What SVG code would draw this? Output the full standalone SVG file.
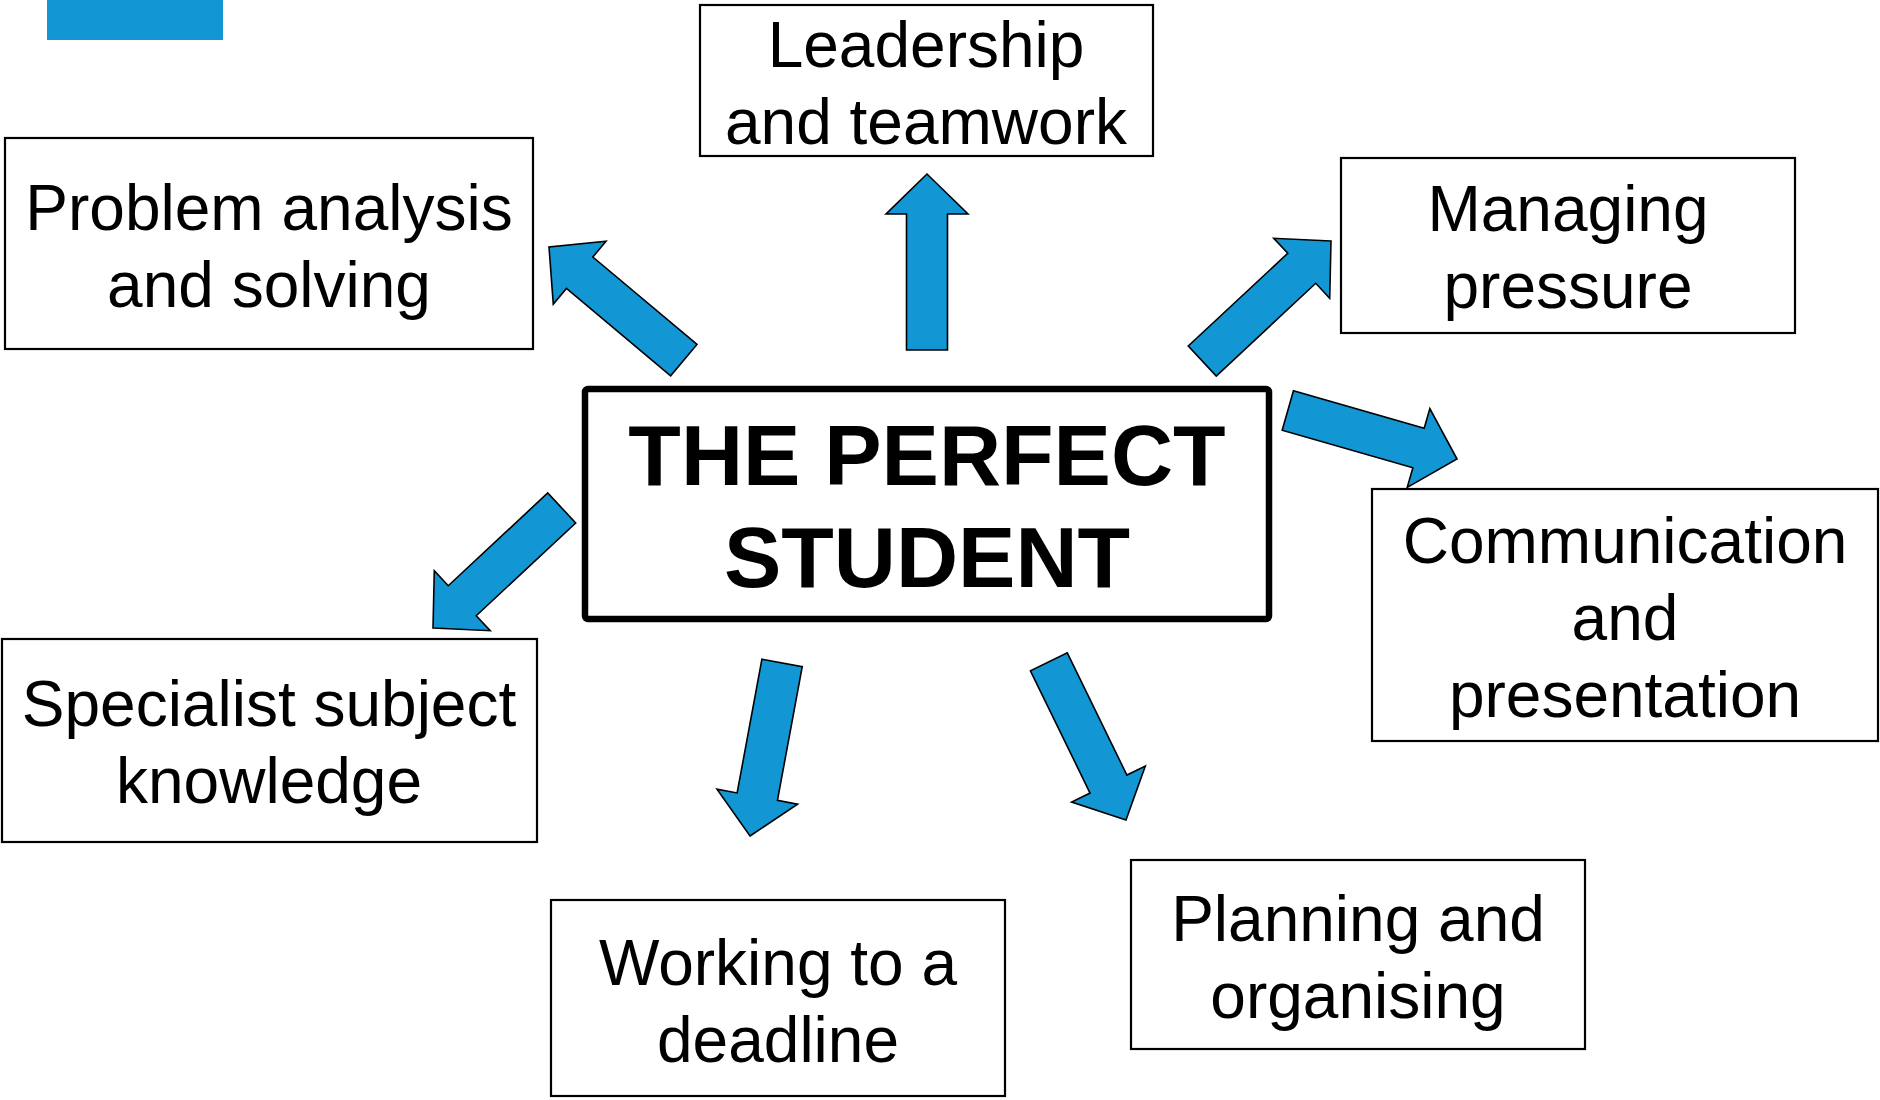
<svg xmlns="http://www.w3.org/2000/svg" xmlns:xlink="http://www.w3.org/1999/xlink" width="1880" height="1100" viewBox="0 0 1880 1100">
<style>
.box{fill:#fff;stroke:#000;stroke-width:2.2}
.main{fill:#fff;stroke:#000;stroke-width:6.5;stroke-linejoin:round}
.t{font-family:"Liberation Sans",Arial,sans-serif;font-size:64px;text-anchor:middle;fill:#000}
.tb{font-family:"Liberation Sans",Arial,sans-serif;font-size:86px;font-weight:bold;text-anchor:middle;fill:#000}
.arr{fill:#1396D4;stroke:#000;stroke-width:1.6;stroke-linejoin:miter}
</style>
<defs>
<polygon id="arrow" points="0,0 -40,-41 -40,-20.5 -176,-20.5 -176,20.5 -40,20.5 -40,41"/>
</defs>
<rect x="47" y="0" width="176" height="40" fill="#1396D4"/>
<g id="connectors">
<use xlink:href="#arrow" class="arr" transform="translate(927,174) rotate(-90)"/>
<use xlink:href="#arrow" class="arr" transform="translate(549,247) rotate(-140)"/>
<use xlink:href="#arrow" class="arr" transform="translate(1331,241) rotate(-43)"/>
<use xlink:href="#arrow" class="arr" transform="translate(1457,459) rotate(16)"/>
<use xlink:href="#arrow" class="arr" transform="translate(433,628) rotate(137)"/>
<use xlink:href="#arrow" class="arr" transform="translate(750,836) rotate(100.5)"/>
<use xlink:href="#arrow" class="arr" transform="translate(1126,820) rotate(64)"/>
</g>
<g id="center">
<rect class="main" x="585" y="389" width="684" height="230" rx="3"/>
<text class="tb" x="927" y="485">THE PERFECT</text>
<text class="tb" x="927" y="587">STUDENT</text>
</g>
<g id="problem">
<rect class="box" x="5" y="138" width="528" height="211"/>
<text class="t" x="269" y="230">Problem analysis</text>
<text class="t" x="269" y="307">and solving</text>
</g>
<g id="leadership">
<rect class="box" x="700" y="5" width="453" height="151"/>
<text class="t" x="926" y="67">Leadership</text>
<text class="t" x="926" y="144">and teamwork</text>
</g>
<g id="managing">
<rect class="box" x="1341" y="158" width="454" height="175"/>
<text class="t" x="1568" y="231">Managing</text>
<text class="t" x="1568" y="308">pressure</text>
</g>
<g id="communication">
<rect class="box" x="1372" y="489" width="506" height="252"/>
<text class="t" x="1625" y="563">Communication</text>
<text class="t" x="1625" y="640">and</text>
<text class="t" x="1625" y="717">presentation</text>
</g>
<g id="specialist">
<rect class="box" x="2" y="639" width="535" height="203"/>
<text class="t" x="269" y="726">Specialist subject</text>
<text class="t" x="269" y="803">knowledge</text>
</g>
<g id="working">
<rect class="box" x="551" y="900" width="454" height="196"/>
<text class="t" x="778" y="985">Working to a</text>
<text class="t" x="778" y="1062">deadline</text>
</g>
<g id="planning">
<rect class="box" x="1131" y="860" width="454" height="189"/>
<text class="t" x="1358" y="941">Planning and</text>
<text class="t" x="1358" y="1018">organising</text>
</g>
</svg>
